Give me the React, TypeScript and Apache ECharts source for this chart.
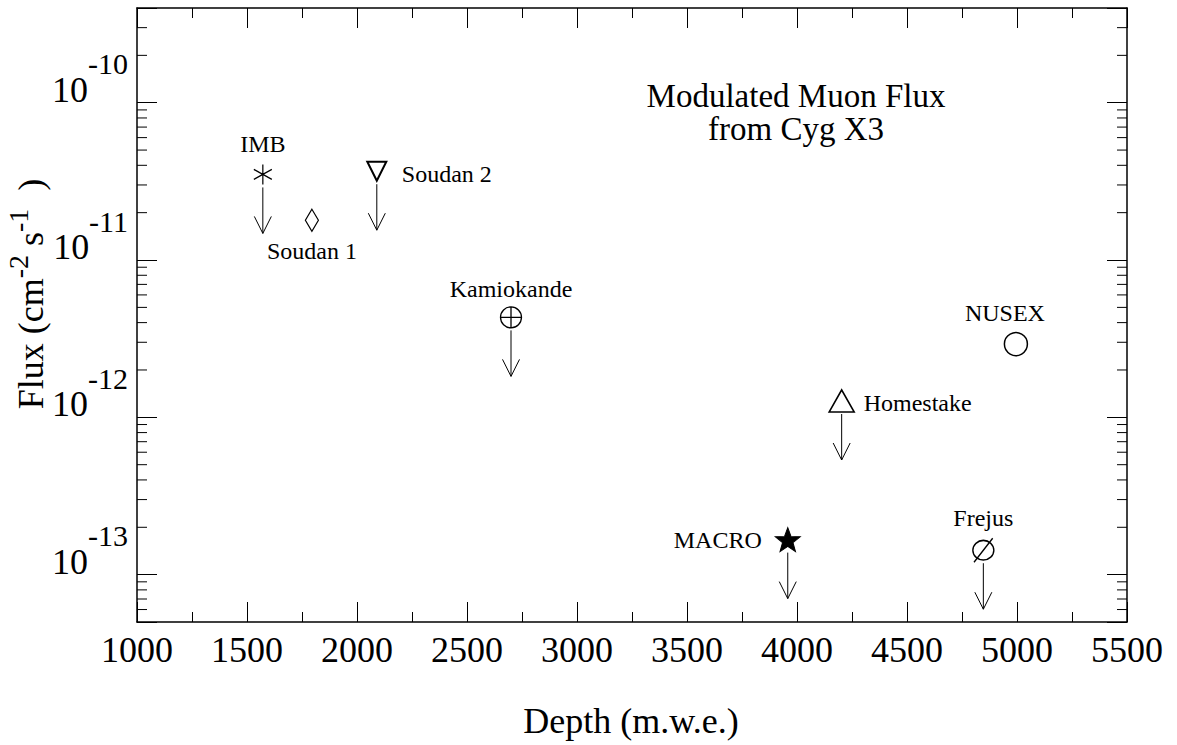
import React, { useEffect, useRef } from 'react';
import * as echarts from 'echarts';

// ---------- data ----------
const stations = ['IMB', 'Soudan 1', 'Soudan 2', 'Kamiokande', 'Homestake', 'MACRO', 'Frejus', 'NUSEX'];
const depthMWE = [1572, 1795, 2090, 2700, 4203, 3958, 4847, 4995];
const fluxValues = [3.5e-11, 1.79e-11, 3.67e-11, 4.32e-12, 1.27e-12, 1.67e-13, 1.43e-13, 2.92e-12];
const isUpperLimit = [true, false, true, true, true, true, true, false];

const xMin = 1000;
const xMax = 5500;
const xInterval = 500;
const yMin = 5e-14;
const yMax = 4e-10;
const yMinorTicks = [
  6e-14, 7e-14, 8e-14, 9e-14,
  2e-13, 3e-13, 4e-13, 5e-13, 6e-13, 7e-13, 8e-13, 9e-13,
  2e-12, 3e-12, 4e-12, 5e-12, 6e-12, 7e-12, 8e-12, 9e-12,
  2e-11, 3e-11, 4e-11, 5e-11, 6e-11, 7e-11, 8e-11, 9e-11,
  2e-10, 3e-10,
];

const chartTitle = 'Modulated Muon Flux\nfrom Cyg X3';
const xTitle = 'Depth (m.w.e.)';

// ---------- styles ----------
const FONT = "'Liberation Serif', 'Times New Roman', Times, serif";

const STAR =
  'path://M12,0L14.94,7.95L23.41,8.29L16.76,13.55L19.05,21.71L12,17L4.95,21.71L7.24,13.55L0.59,8.29L9.06,7.95Z';

const markerStyles: Record<string, any> = {
  IMB: { symbol: 'path://M0,-10L0,10M-8.66,-5L8.66,5M-8.66,5L8.66,-5', size: [18, 20], fill: 'rgba(0,0,0,0)', bw: 1.3, offset: [0, -30] },
  'Soudan 1': { symbol: 'diamond', size: [13, 22], fill: '#fff', bw: 1.3, offset: [0, 31] },
  'Soudan 2': { symbol: 'path://M0,0L20,0L10,19Z', size: [19, 19], fill: '#fff', bw: 2, offset: [70, 3] },
  Kamiokande: { symbol: 'path://M0,10A10,10,0,1,0,20,10A10,10,0,1,0,0,10ZM10,0L10,20M0,10L20,10', size: [21, 21], fill: '#fff', bw: 1.3, offset: [0, -28] },
  Homestake: { symbol: 'path://M0,20L12,0L24,20Z', size: [25, 22], fill: '#fff', bw: 1.6, offset: [76, 2] },
  MACRO: { symbol: STAR, size: [25, 24], fill: '#000', bw: 1, offset: [-70, 0] },
  Frejus: { symbol: 'path://M1,11A9,9,0,1,0,19,11A9,9,0,1,0,1,11ZM2,22L18,0', size: [21, 24], fill: 'rgba(0,0,0,0)', bw: 1.5, offset: [0, -32] },
  NUSEX: { symbol: 'circle', size: [23, 23], fill: '#fff', bw: 1.5, offset: [-11, -31] },
};

const ARROW_START = 13;
const ARROW_END = 59;
const HEAD_W = 8.5;
const HEAD_H = 17;

export default function App() {
  const ref = useRef<HTMLDivElement>(null);

  useEffect(() => {
    const chart = echarts.init(ref.current!, null, { renderer: 'svg' });

    const logLabel = (v: number) => {
      const e = Math.log10(v);
      const r = Math.round(e);
      if (Math.abs(e - r) > 1e-6) return '';
      return `{b|10}{s|${r}}`;
    };

    const axisLineStyle = { show: true, lineStyle: { color: '#000', width: 1.5 } };
    const tickStyle = { show: true, inside: true, length: 20, lineStyle: { color: '#000', width: 1 } };

    const scatterData = stations.map((name, i) => {
      const st = markerStyles[name];
      return {
        name,
        value: [depthMWE[i], fluxValues[i]],
        symbol: st.symbol,
        symbolSize: st.size,
        itemStyle: { color: st.fill, borderColor: '#000', borderWidth: st.bw, opacity: 1 },
        label: {
          show: true,
          position: 'inside',
          offset: st.offset,
          formatter: name,
          fontFamily: FONT,
          fontSize: 24,
          color: '#000',
        },
      };
    });

    const limitData = stations
      .map((name, i) => ({ name, value: [depthMWE[i], fluxValues[i]], lim: isUpperLimit[i] }))
      .filter((d) => d.lim)
      .map((d) => ({ name: d.name, value: d.value }));

    const option: any = {
      animation: false,
      backgroundColor: '#fff',
      grid: { left: 137, right: 50, top: 8, bottom: 123, outerBoundsMode: 'none', containLabel: false },
      xAxis: [
        {
          type: 'value',
          position: 'bottom',
          min: xMin,
          max: xMax,
          interval: xInterval,
          axisLine: axisLineStyle,
          axisTick: tickStyle,
          minorTick: { show: true, splitNumber: 2, length: 10, lineStyle: { color: '#000', width: 1 } },
          splitLine: { show: false },
          minorSplitLine: { show: false },
          axisLabel: {
            show: true,
            margin: 10,
            fontFamily: FONT,
            fontSize: 36,
            color: '#000',
            formatter: (v: number) => String(v),
          },
        },
        {
          type: 'value',
          position: 'top',
          min: xMin,
          max: xMax,
          interval: xInterval,
          axisLine: axisLineStyle,
          axisTick: tickStyle,
          minorTick: { show: true, splitNumber: 2, length: 10, lineStyle: { color: '#000', width: 1 } },
          splitLine: { show: false },
          axisLabel: { show: false },
        },
      ],
      yAxis: [
        {
          type: 'log',
          logBase: 10,
          position: 'left',
          min: yMin,
          max: yMax,
          axisLine: axisLineStyle,
          axisTick: tickStyle,
          splitLine: { show: false },
          axisLabel: {
            show: true,
            margin: 9,
            formatter: logLabel,
            verticalAlign: 'middle',
            rich: {
              b: { fontFamily: FONT, fontSize: 36, color: '#000', padding: [0, 0, 26, 0] },
              s: { fontFamily: FONT, fontSize: 30, color: '#000', padding: [0, 0, 78, 0] },
            },
          },
        },
        {
          type: 'log',
          logBase: 10,
          position: 'right',
          min: yMin,
          max: yMax,
          axisLine: axisLineStyle,
          axisTick: tickStyle,
          splitLine: { show: false },
          axisLabel: { show: false },
        },
      ],
      graphic: [
        {
          type: 'text',
          x: 796,
          y: 79.5,
          silent: true,
          style: {
            text: chartTitle,
            fontFamily: FONT,
            fontSize: 33,
            fill: '#000',
            align: 'center',
            verticalAlign: 'top',
            lineHeight: 33,
          },
        },
        {
          type: 'text',
          x: 631,
          y: 721,
          silent: true,
          style: {
            text: xTitle,
            fontFamily: FONT,
            fontSize: 36,
            fill: '#000',
            align: 'center',
            verticalAlign: 'middle',
          },
        },
        {
          type: 'text',
          x: 31,
          y: 294,
          rotation: Math.PI / 2,
          silent: true,
          style: {
            text: '{b|Flux (cm}{s|-2}{b| s}{s|-1}{b|  )}',
            align: 'center',
            verticalAlign: 'middle',
            fill: '#000',
            fontFamily: FONT,
            fontSize: 36,
            rich: {
              b: { fontFamily: FONT, fontSize: 36, fill: '#000', color: '#000' },
              s: { fontFamily: FONT, fontSize: 28, fill: '#000', color: '#000', padding: [0, 0, 25, 0] },
            },
          },
        },
      ],
      series: [
        {
          type: 'custom',
          name: 'minorTicks',
          coordinateSystem: 'cartesian2d',
          xAxisIndex: 0,
          yAxisIndex: 0,
          silent: true,
          clip: false,
          data: yMinorTicks.map((v) => [xMin, v]),
          encode: { x: 0, y: 1 },
          renderItem: (params: any, api: any) => {
            const v = api.value(1);
            const l = api.coord([xMin, v]);
            const r = api.coord([xMax, v]);
            const ls = { stroke: '#000', lineWidth: 1 };
            return {
              type: 'group',
              children: [
                { type: 'line', shape: { x1: l[0], y1: l[1], x2: l[0] + 10, y2: l[1] }, style: ls },
                { type: 'line', shape: { x1: r[0] - 10, y1: r[1], x2: r[0], y2: r[1] }, style: ls },
              ],
            };
          },
        },
        {
          type: 'custom',
          name: 'upperLimits',
          coordinateSystem: 'cartesian2d',
          xAxisIndex: 0,
          yAxisIndex: 0,
          silent: true,
          clip: false,
          data: limitData,
          encode: { x: 0, y: 1 },
          renderItem: (params: any, api: any) => {
            const p = api.coord([api.value(0), api.value(1)]);
            const x = p[0];
            const y0 = p[1] + ARROW_START;
            const y1 = p[1] + ARROW_END;
            const ls = { stroke: '#000', lineWidth: 1, fill: 'none' };
            return {
              type: 'group',
              children: [
                { type: 'line', shape: { x1: x, y1: y0, x2: x, y2: y1 }, style: ls },
                {
                  type: 'polyline',
                  shape: { points: [[x - HEAD_W, y1 - HEAD_H], [x, y1], [x + HEAD_W, y1 - HEAD_H]] },
                  style: ls,
                },
              ],
            };
          },
        },
        {
          type: 'scatter',
          name: 'experiments',
          xAxisIndex: 0,
          yAxisIndex: 0,
          symbolKeepAspect: false,
          data: scatterData,
          z: 5,
        },
      ],
    };

    chart.setOption(option);
    return () => chart.dispose();
  }, []);

  return (
    <div
      ref={ref}
      style={{ position: 'absolute', left: 0, top: 0, width: 1177, height: 745, background: '#fff' }}
    />
  );
}
